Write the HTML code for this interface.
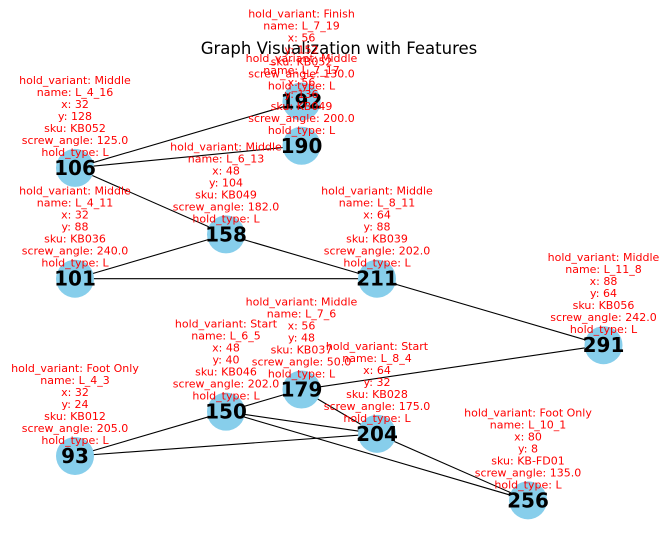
<!DOCTYPE html>
<html><head><meta charset="utf-8"><style>
html,body{margin:0;padding:0;background:#fff;}
svg{display:block;font-family:"DejaVu Sans","Liberation Sans",sans-serif;}
</style></head><body>
<svg id="chart" width="670" height="552" viewBox="0 0 670 552">
<text x="339" y="54" text-anchor="middle" font-size="16.5" fill="#000">Graph Visualization with Features</text>
<g id="edges"></g>
<g id="nodes"></g>
<g id="labels"></g>
</svg>
<script>
const nodeIds = [192,190,106,158,101,211,291,179,150,204,93,256];
const nodeVariant = ["Finish","Middle","Middle","Middle","Middle","Middle","Middle","Middle","Start","Start","Foot Only","Foot Only"];
const nodeName = ["L_7_19","L_7_17","L_4_16","L_6_13","L_4_11","L_8_11","L_11_8","L_7_6","L_6_5","L_8_4","L_4_3","L_10_1"];
const nodeX = [56,56,32,48,32,64,88,56,48,64,32,80];
const nodeY = [152,136,128,104,88,88,64,48,40,32,24,8];
const nodeSku = ["KB052","KB049","KB052","KB049","KB036","KB039","KB056","KB037","KB046","KB028","KB012","KB-FD01"];
const nodeAngle = ["130.0","200.0","125.0","182.0","240.0","202.0","242.0","50.0","202.0","175.0","205.0","135.0"];
const edgeFrom = [192,190,106,158,101,101,211,291,179,179,150,93,150,150,204];
const edgeTo   = [106,106,158,211,158,211,291,179,150,204,93,204,204,256,256];

function sx(v){ return 75 + (v-32)*9.4375; }
function sy(v){ return 456 - (v-24)*2.77; }
const NS="http://www.w3.org/2000/svg";
function pos(id){ const i=nodeIds.indexOf(id); return [sx(nodeX[i]), sy(nodeY[i])]; }

const eg=document.getElementById('edges');
for(let k=0;k<edgeFrom.length;k++){
  const a=pos(edgeFrom[k]), b=pos(edgeTo[k]);
  const l=document.createElementNS(NS,'line');
  l.setAttribute('x1',a[0]);l.setAttribute('y1',a[1]);l.setAttribute('x2',b[0]);l.setAttribute('y2',b[1]);
  l.setAttribute('stroke','#000');l.setAttribute('stroke-width','1.1');
  
  
  eg.appendChild(l);
}
const ng=document.getElementById('nodes');
const lg=document.getElementById('labels');
for(let i=0;i<nodeIds.length;i++){
  const cx=sx(nodeX[i]), cy=sy(nodeY[i]);
  const c=document.createElementNS(NS,'circle');
  c.setAttribute('cx',cx);c.setAttribute('cy',cy);c.setAttribute('r','19');c.setAttribute('fill','#87ceeb');
  
  
  ng.appendChild(c);
  const t=document.createElementNS(NS,'text');
  t.setAttribute('x',cx);t.setAttribute('y',cy+7);t.setAttribute('text-anchor','middle');
  t.setAttribute('font-size','20');t.setAttribute('font-weight','bold');t.setAttribute('fill','#000');
  t.textContent=nodeIds[i];
  
  
  ng.appendChild(t);
}
for(let i=0;i<nodeIds.length;i++){
  const cx=sx(nodeX[i]), cy=sy(nodeY[i]);
  const lines=["hold_variant: "+nodeVariant[i],"name: "+nodeName[i],"x: "+nodeX[i],"y: "+nodeY[i],"sku: "+nodeSku[i],"screw_angle: "+nodeAngle[i],"hold_type: L"];
  const t=document.createElementNS(NS,'text');
  t.setAttribute('text-anchor','middle');t.setAttribute('font-size','11');t.setAttribute('fill','#ff0000');
  
  
  lines.forEach((s,j)=>{
    const sp=document.createElementNS(NS,'tspan');
    sp.setAttribute('x',cx);sp.setAttribute('y',cy-52+(j-3)*12+4);
    sp.textContent=s;
    t.appendChild(sp);
  });
  lg.appendChild(t);
}
</script>
</body></html>
